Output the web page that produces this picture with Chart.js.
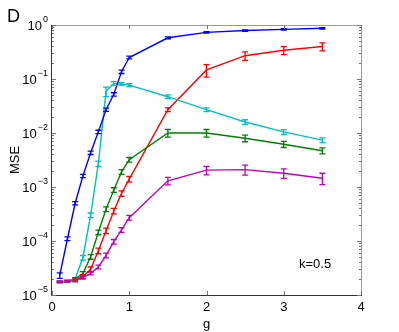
<!DOCTYPE html>
<html>
<head>
<meta charset="utf-8">
<script src="https://cdn.jsdelivr.net/npm/chart.js@4.4.0/dist/chart.umd.min.js"></script>
<style>
  html, body { margin: 0; padding: 0; background: #fff; }
  #wrap { width: 399px; height: 332px; position: relative; }
</style>
</head>
<body>
<div id="wrap"><canvas id="myChart" width="399" height="332"></canvas></div>
<script>
// coupling strength g
const gVals = [0.1, 0.2, 0.3, 0.4, 0.5, 0.6, 0.7, 0.8, 0.9, 1.0, 1.5, 2, 2.5, 3, 3.5];

// MSE per curve
const blueMSE = [2.3e-5, 1.1e-4, 5.0e-4, 1.6e-3, 4.3e-3, 1.05e-2, 2.7e-2, 5.2e-2, 0.136, 0.25, 0.58, 0.73, 0.79, 0.83, 0.87];
const cyanMSE = [1.75e-5, 1.8e-5, 2.0e-5, 4.9e-5, 3.0e-4, 2.7e-3, 5.9e-2, 8.3e-2, 8.1e-2, 7.7e-2, 4.7e-2, 2.7e-2, 1.6e-2, 1.05e-2, 7.4e-3];
const greenMSE = [1.75e-5, 1.8e-5, 2.0e-5, 2.5e-5, 5.1e-5, 1.45e-4, 3.9e-4, 8.8e-4, 1.9e-3, 3.2e-3, 1.0e-2, 1.0e-2, 8.0e-3, 6.2e-3, 4.7e-3];
const redMSE = [1.75e-5, 1.8e-5, 1.9e-5, 2.2e-5, 3.0e-5, 6.6e-5, 1.55e-4, 3.6e-4, 7.6e-4, 1.4e-3, 2.7e-2, 0.147, 0.27, 0.34, 0.40];
const magentaMSE = [1.75e-5, 1.8e-5, 1.85e-5, 2.1e-5, 2.5e-5, 3.3e-5, 5.4e-5, 9.7e-5, 1.6e-4, 2.7e-4, 1.3e-3, 2.05e-3, 2.1e-3, 1.8e-3, 1.45e-3];

// relative error (fraction of value)
const blueErr = [0.12, 0.08, 0.07, 0.07, 0.07, 0.07, 0.07, 0.07, 0.07, 0.06, 0.04, 0.03, 0.03, 0.03, 0.03];
const cyanErr = [0.03, 0.03, 0.05, 0.1, 0.1, 0.12, 0.2, 0.08, 0.06, 0.06, 0.08, 0.08, 0.1, 0.1, 0.1];
const greenErr = [0.03, 0.03, 0.05, 0.08, 0.1, 0.1, 0.1, 0.1, 0.1, 0.1, 0.16, 0.16, 0.14, 0.13, 0.13];
const redErr = [0.03, 0.03, 0.05, 0.08, 0.1, 0.12, 0.12, 0.12, 0.12, 0.12, 0.08, 0.26, 0.18, 0.17, 0.17];
const magentaErr = [0.03, 0.03, 0.05, 0.06, 0.06, 0.08, 0.1, 0.1, 0.1, 0.1, 0.16, 0.18, 0.21, 0.2, 0.24];

const yTickValues = [1e-5, 1e-4, 1e-3, 1e-2, 1e-1, 1];
const yTickExps = ['\u22125', '\u22124', '\u22123', '\u22122', '\u22121', '0'];
const xTickValues = [0, 1, 2, 3, 4];

const FONT = '"Liberation Sans", Arial, Helvetica, sans-serif';

function makeSet(vals, errs, color) {
  return {
    data: gVals.map((g, i) => ({ x: g, y: vals[i] })),
    errs: errs,
    borderColor: color,
    backgroundColor: color,
    borderWidth: 1.4,
    pointRadius: 0,
    tension: 0,
    fill: false
  };
}

// error bars, frame, inward ticks and the extra labels
const matlabLook = {
  id: 'matlabLook',
  afterDatasetsDraw(chart) {
    const ctx = chart.ctx;
    const xs = chart.scales.x, ys = chart.scales.y;
    ctx.save();
    chart.data.datasets.forEach(ds => {
      ctx.strokeStyle = ds.borderColor;
      ctx.lineWidth = 1.3;
      ds.data.forEach((p, i) => {
        const e = ds.errs[i] * p.y;
        const px = xs.getPixelForValue(p.x);
        const y1 = ys.getPixelForValue(p.y - e);
        const y2 = ys.getPixelForValue(p.y + e);
        ctx.beginPath();
        ctx.moveTo(px, y1); ctx.lineTo(px, y2);
        ctx.moveTo(px - 3, y1); ctx.lineTo(px + 3, y1);
        ctx.moveTo(px - 3, y2); ctx.lineTo(px + 3, y2);
        ctx.stroke();
      });
    });
    ctx.restore();
  },
  afterDraw(chart) {
    const ctx = chart.ctx;
    const a = chart.chartArea;
    const xs = chart.scales.x, ys = chart.scales.y;
    ctx.save();
    // frame
    ctx.lineWidth = 1;
    ctx.strokeStyle = '#9a9a9a';
    ctx.beginPath();
    ctx.moveTo(a.left, a.top + 0.5); ctx.lineTo(a.right + 0.5, a.top + 0.5); ctx.lineTo(a.right + 0.5, a.bottom);
    ctx.stroke();
    ctx.strokeStyle = '#333';
    ctx.beginPath();
    ctx.moveTo(a.left - 0.5, a.top); ctx.lineTo(a.left - 0.5, a.bottom + 0.5); ctx.lineTo(a.right + 1, a.bottom + 0.5);
    ctx.stroke();

    // x ticks inward
    ctx.strokeStyle = '#777';
    xTickValues.forEach(v => {
      const px = Math.round(xs.getPixelForValue(v)) + 0.5;
      ctx.beginPath();
      ctx.moveTo(px, a.bottom); ctx.lineTo(px, a.bottom - 4);
      ctx.moveTo(px, a.top); ctx.lineTo(px, a.top + 4);
      ctx.stroke();
    });
    // y ticks inward, major and minor
    for (let d = -5; d <= 0; d++) {
      for (let m = 1; m <= 9; m++) {
        const v = m * Math.pow(10, d);
        if (v > 1) break;
        const py = Math.round(ys.getPixelForValue(v)) + 0.5;
        const len = m === 1 ? 4 : 2;
        ctx.beginPath();
        ctx.moveTo(a.left, py); ctx.lineTo(a.left + len, py);
        ctx.moveTo(a.right, py); ctx.lineTo(a.right - len, py);
        ctx.stroke();
      }
    }

    // y tick labels 10^n
    ctx.fillStyle = '#000';
    ctx.textBaseline = 'middle';
    yTickValues.forEach((v, i) => {
      const py = ys.getPixelForValue(v);
      ctx.font = '9px ' + FONT;
      ctx.textAlign = 'right';
      const ew = ctx.measureText(yTickExps[i]).width;
      ctx.fillText(yTickExps[i], a.left - 4, py - 5);
      ctx.font = '13px ' + FONT;
      ctx.fillText('10', a.left - 5 - ew, py + 1);
    });

    // panel letter and note
    ctx.textAlign = 'left';
    ctx.textBaseline = 'alphabetic';
    ctx.font = '18px ' + FONT;
    ctx.fillText('D', 7, 22);
    ctx.font = '13px ' + FONT;
    ctx.fillText('k=0.5', 299, 268);
    ctx.restore();
  }
};

const canvas = document.getElementById('myChart');
const ctx = canvas.getContext('2d');
const myChart = new Chart(ctx, {
  type: 'line',
  data: {
    datasets: [
      makeSet(blueMSE, blueErr, '#0000ff'),
      makeSet(cyanMSE, cyanErr, '#00bfbf'),
      makeSet(greenMSE, greenErr, '#008000'),
      makeSet(redMSE, redErr, '#ff0000'),
      makeSet(magentaMSE, magentaErr, '#bf00bf')
    ]
  },
  options: {
    responsive: false,
    animation: false,
    layout: { padding: { top: 25, right: 38, left: 0, bottom: 0 } },
    plugins: { legend: { display: false }, tooltip: { enabled: false } },
    scales: {
      x: {
        type: 'linear',
        min: 0,
        max: 4,
        afterBuildTicks: s => { s.ticks = xTickValues.map(v => ({ value: v })); },
        afterFit: s => { s.height = 37; },
        grid: { display: false, drawTicks: false },
        border: { display: false },
        ticks: { color: '#000', padding: 5, maxRotation: 0, font: { family: FONT, size: 13 } },
        title: { display: true, text: 'g', color: '#000', padding: { top: -5, bottom: 0 }, font: { family: FONT, size: 13 } }
      },
      y: {
        type: 'logarithmic',
        min: 1e-5,
        max: 1,
        afterBuildTicks: s => { s.ticks = yTickValues.map(v => ({ value: v })); },
        afterFit: s => { s.width = 52; },
        grid: { display: false, drawTicks: false },
        border: { display: false },
        ticks: { display: false },
        title: { display: true, text: 'MSE', color: '#000', padding: { top: 8, bottom: 0 }, font: { family: FONT, size: 13 } }
      }
    }
  },
  plugins: [matlabLook]
});
</script>
</body>
</html>
